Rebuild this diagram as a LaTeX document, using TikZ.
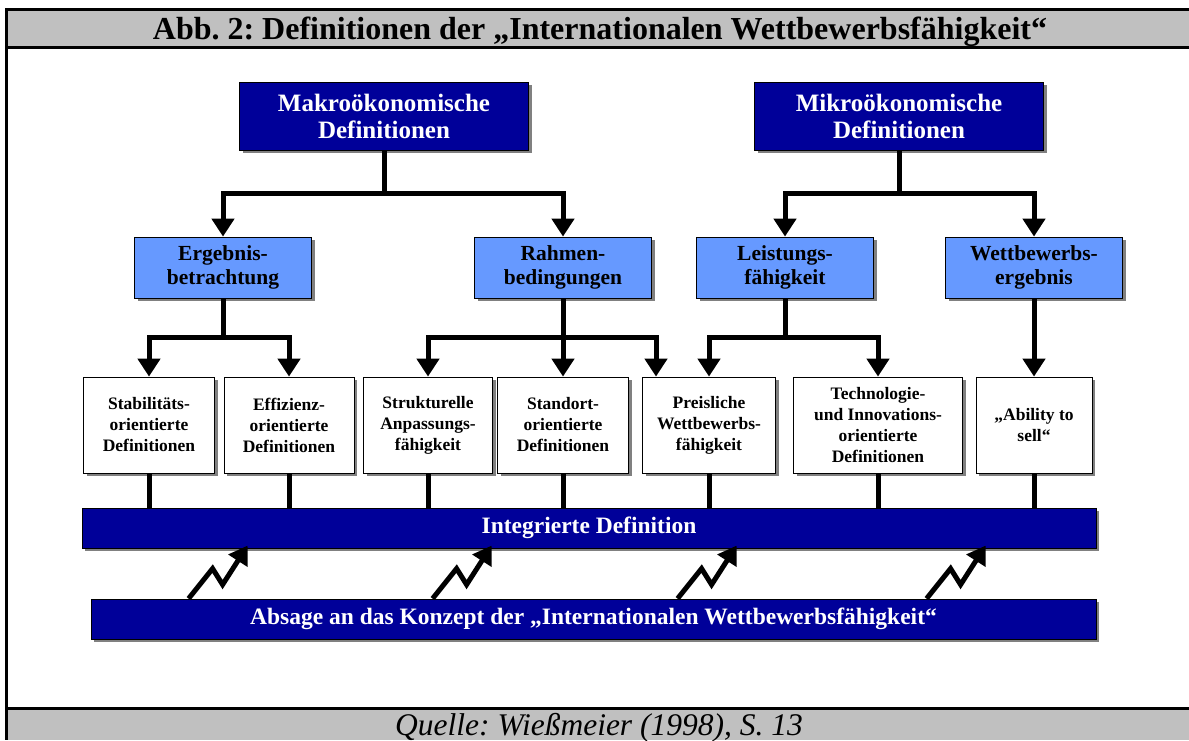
\documentclass[tikz,border=0pt]{standalone}
\usepackage{fontspec}
\setmainfont{Liberation Serif}
\usetikzlibrary{arrows.meta,shadows}

\definecolor{darkblue}{RGB}{0,0,153}
\definecolor{lightblue}{RGB}{102,153,255}
\definecolor{bandgray}{RGB}{192,192,192}
\definecolor{shadowgray}{RGB}{128,128,128}

\begin{document}
\frenchspacing
\begin{tikzpicture}[x=1pt,y=-1pt,
                every path/.style={>={Triangle[length=18pt,width=22pt]}},
                box/.style={draw=black,line width=0.8pt,align=center,inner sep=0pt,
                  drop shadow={shadow xshift=3pt,shadow yshift=-3pt,fill=shadowgray,opacity=1}},
                topbox/.style={box,fill=darkblue,text=white,minimum width=289pt,minimum height=68pt,
                  font=\fontsize{25}{27}\selectfont\bfseries},
                midbox/.style={box,fill=lightblue,minimum width=177pt,minimum height=61pt,
                  font=\fontsize{21.5}{24}\selectfont\bfseries},
                defbox/.style={box,fill=white,minimum height=96pt,
                  font=\fontsize{17.5}{21}\selectfont\bfseries},
                barbox/.style={box,fill=darkblue,text=white,minimum height=40pt,
                  font=\fontsize{23.5}{25}\selectfont\bfseries},
                link/.style={line width=5pt}]
  \useasboundingbox (0,0) rectangle (1189,740);
  % frame with title and source bands
  \fill[bandgray] (6,9) rectangle (1189,47);
  \fill[bandgray] (6,708) rectangle (1189,740);
  \draw[line width=3pt] (1189,9) -- (6,9) -- (6,740);
  \draw[line width=3pt] (6,47) -- (1189,47);
  \draw[line width=3pt] (6,708) -- (1189,708);
  \node[anchor=base,font=\fontsize{32}{34}\selectfont\bfseries] (title) at (600,39)
    {Abb. 2: Definitionen der „Internationalen Wettbewerbsfähigkeit“};
  \node[anchor=base,font=\fontsize{31.5}{34}\selectfont\itshape] (source) at (599,735)
    {Quelle: Wießmeier (1998), S. 13};

  \node[topbox]  (makro)      at (384,116)   {Makroökonomische\\Definitionen};
  \node[topbox]  (mikro)      at (899,116)   {Mikroökonomische\\Definitionen};
  \node[midbox]  (ergebnis)   at (223,267.5) {Ergebnis-\\betrachtung};
  \node[midbox]  (rahmen)     at (563,267.5) {Rahmen-\\bedingungen};
  \node[midbox]  (leistung)   at (785,267.5) {Leistungs-\\fähigkeit};
  \node[midbox]  (wettbewerb) at (1034,267.5) {Wettbewerbs-\\ergebnis};
  \node[defbox,minimum width=131pt] (stab)     at (149,425) {Stabilitäts-\\orientierte\\Definitionen};
  \node[defbox,minimum width=130pt] (eff)      at (289,425) {Effizienz-\\orientierte\\Definitionen};
  \node[defbox,minimum width=129pt] (strukt)   at (428,425) {Strukturelle\\Anpassungs-\\fähigkeit};
  \node[defbox,minimum width=131pt] (standort) at (563,425) {Standort-\\orientierte\\Definitionen};
  \node[defbox,minimum width=133pt] (preis)    at (709,425) {Preisliche\\Wettbewerbs-\\fähigkeit};
  \node[defbox,minimum width=169pt] (techno)   at (878,425) {Technologie-\\und Innovations-\\orientierte\\Definitionen};
  \node[defbox,minimum width=116pt] (ability)  at (1034,425) {„Ability to\\sell“};
  \node[barbox,minimum width=1014pt] (integ)  at (589,528) {Integrierte Definition};
  \node[barbox,minimum width=1005pt] (absage) at (593.5,619) {Absage an das Konzept der „Internationalen Wettbewerbsfähigkeit“};

  \draw[link,->] (makro.south) -- ++(0,43) -| (ergebnis.north);
  \draw[link,->] (makro.south) -- ++(0,43) -| (rahmen.north);
  \draw[link,->] (mikro.south) -- ++(0,43) -| (leistung.north);
  \draw[link,->] (mikro.south) -- ++(0,43) -| (wettbewerb.north);
  \draw[link,->] (ergebnis.south) -- ++(0,39) -| (stab.north);
  \draw[link,->] (ergebnis.south) -- ++(0,39) -| (eff.north);
  \draw[link,->] (rahmen.south) -- ++(0,39) -| (strukt.north);
  \draw[link,->] (rahmen.south) -- (standort.north);
  \draw[link,->] (rahmen.south) -- ++(0,39) -| ([xshift=-53pt]preis.north);
  \draw[link,->] (leistung.south) -- ++(0,39) -| (preis.north);
  \draw[link,->] (leistung.south) -- ++(0,39) -| (techno.north);
  \draw[link,->] (wettbewerb.south) -- (ability.north);
  \foreach \n in {stab,eff,strukt,standort,preis,techno,ability}
    \draw[link] (\n.south) -- (\n.south |- integ.north);
  % zigzag arrows
  \foreach \dx in {98,342,587,836}
    \draw[link,->] ([xshift=\dx pt]absage.north west) -- ++(24,-30) -- ++(10,16) -- ++(25,-39);
\end{tikzpicture}
\end{document}
